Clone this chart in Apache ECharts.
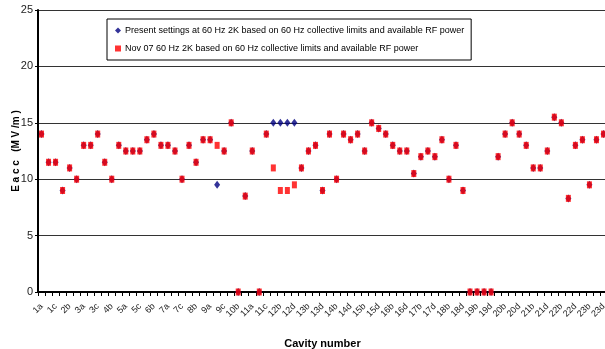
<!DOCTYPE html>
<html>
<head>
<meta charset="utf-8">
<script src="https://cdn.jsdelivr.net/npm/echarts@6/dist/echarts.min.js"></script>
<style>
  html, body { margin: 0; padding: 0; background: #fff; }
  #chart { width: 605px; height: 349px; }
</style>
</head>
<body>
<div id="chart"></div>
<script>
// Cavity positions along the linac (11 three-cavity modules, 12 four-cavity modules)
const cavities = [
  '1a','1b','1c','2a','2b','2c','3a','3b','3c','4a','4b','4c',
  '5a','5b','5c','6a','6b','6c','7a','7b','7c','8a','8b','8c',
  '9a','9b','9c','10a','10b','10c','11a','11b','11c',
  '12a','12b','12c','12d','13a','13b','13c','13d','14a','14b','14c','14d',
  '15a','15b','15c','15d','16a','16b','16c','16d','17a','17b','17c','17d',
  '18a','18b','18c','18d','19a','19b','19c','19d','20a','20b','20c','20d',
  '21a','21b','21c','21d','22a','22b','22c','22d','23a','23b','23c','23d'
];

// Present settings at 60 Hz 2K (MV/m)
const presentSettings = [
  14, 11.5, 11.5, 9, 11, 10, 13, 13, 14, 11.5, 10, 13,
  12.5, 12.5, 12.5, 13.5, 14, 13, 13, 12.5, 10, 13, 11.5, 13.5,
  13.5, 9.5, 12.5, 15, 0, 8.5, 12.5, 0, 14,
  15, 15, 15, 15, 11, 12.5, 13, 9, 14, 10, 14, 13.5,
  14, 12.5, 15, 14.5, 14, 13, 12.5, 12.5, 10.5, 12, 12.5, 12,
  13.5, 10, 13, 9, 0, 0, 0, 0, 12, 14, 15, 14,
  13, 11, 11, 12.5, 15.5, 15, 8.3, 13, 13.5, 9.5, 13.5, 14
];

// Nov 07 settings at 60 Hz 2K (MV/m)
const nov07Settings = [
  14, 11.5, 11.5, 9, 11, 10, 13, 13, 14, 11.5, 10, 13,
  12.5, 12.5, 12.5, 13.5, 14, 13, 13, 12.5, 10, 13, 11.5, 13.5,
  13.5, 13, 12.5, 15, 0, 8.5, 12.5, 0, 14,
  11, 9, 9, 9.5, 11, 12.5, 13, 9, 14, 10, 14, 13.5,
  14, 12.5, 15, 14.5, 14, 13, 12.5, 12.5, 10.5, 12, 12.5, 12,
  13.5, 10, 13, 9, 0, 0, 0, 0, 12, 14, 15, 14,
  13, 11, 11, 12.5, 15.5, 15, 8.3, 13, 13.5, 9.5, 13.5, 14
];

const yTicks = { min: 0, max: 25, step: 5 };

const seriesNames = [
  'Present settings at 60 Hz 2K based on 60 Hz collective limits and available RF power',
  'Nov 07 60 Hz 2K based on 60 Hz collective limits and available RF power'
];

const font = '"Liberation Sans Narrow", "Arial Narrow", "Liberation Sans", Arial, sans-serif';

const chart = echarts.init(document.getElementById('chart'), null, { renderer: 'canvas' });

chart.setOption({
  animation: false,
  backgroundColor: '#ffffff',
  grid: {
    left: 38, right: -2, top: 10, bottom: 57,
    containLabel: false,
    outerBoundsMode: 'none'
  },
  legend: {
    orient: 'vertical',
    left: 107,
    top: 19,
    padding: [7, 7, 7, 8],
    itemGap: 9,
    itemWidth: 6,
    itemHeight: 6,
    borderColor: '#000',
    borderWidth: 1,
    backgroundColor: '#fff',
    textStyle: { fontFamily: font, fontSize: 9, color: '#000', padding: [0, 0, 0, -1] },
    data: [
      { name: seriesNames[0], icon: 'diamond' },
      { name: seriesNames[1], icon: 'rect' }
    ]
  },
  xAxis: {
    type: 'category',
    data: cavities,
    boundaryGap: true,
    name: 'Cavity number',
    nameLocation: 'middle',
    nameGap: 46,
    nameTextStyle: { fontFamily: font, fontSize: 11, fontWeight: 'bold', color: '#000' },
    axisLine: { lineStyle: { color: '#000', width: 2 } },
    axisTick: { show: true, interval: 0, length: 4, lineStyle: { color: '#000', width: 1 } },
    axisLabel: {
      interval: 1,
      rotate: 45,
      margin: 13,
      fontFamily: font,
      fontSize: 9,
      color: '#222'
    },
    splitLine: { show: false }
  },
  yAxis: {
    type: 'value',
    min: yTicks.min,
    max: yTicks.max,
    interval: yTicks.step,
    name: 'E a c c   (M V /m )',
    nameLocation: 'middle',
    nameGap: 17,
    nameRotate: 90,
    nameMoveOverlap: false,
    nameTextStyle: { fontFamily: font, fontSize: 10, fontWeight: 'bold', color: '#000' },
    axisLine: { show: true, lineStyle: { color: '#000', width: 2 } },
    axisTick: { show: true, length: 3, lineStyle: { color: '#000' } },
    axisLabel: { fontFamily: font, fontSize: 11, color: '#222', margin: 5 },
    splitLine: { show: true, lineStyle: { color: '#333', width: 1 } }
  },
  series: [
    {
      name: seriesNames[0],
      type: 'scatter',
      data: presentSettings,
      symbol: 'diamond',
      symbolSize: [6, 8],
      itemStyle: { color: '#000080' },
      z: 2
    },
    {
      name: seriesNames[1],
      type: 'scatter',
      data: nov07Settings,
      symbol: 'rect',
      symbolSize: [5, 7],
      itemStyle: { color: '#ff0000' },
      z: 3
    }
  ]
});
</script>
</body>
</html>
